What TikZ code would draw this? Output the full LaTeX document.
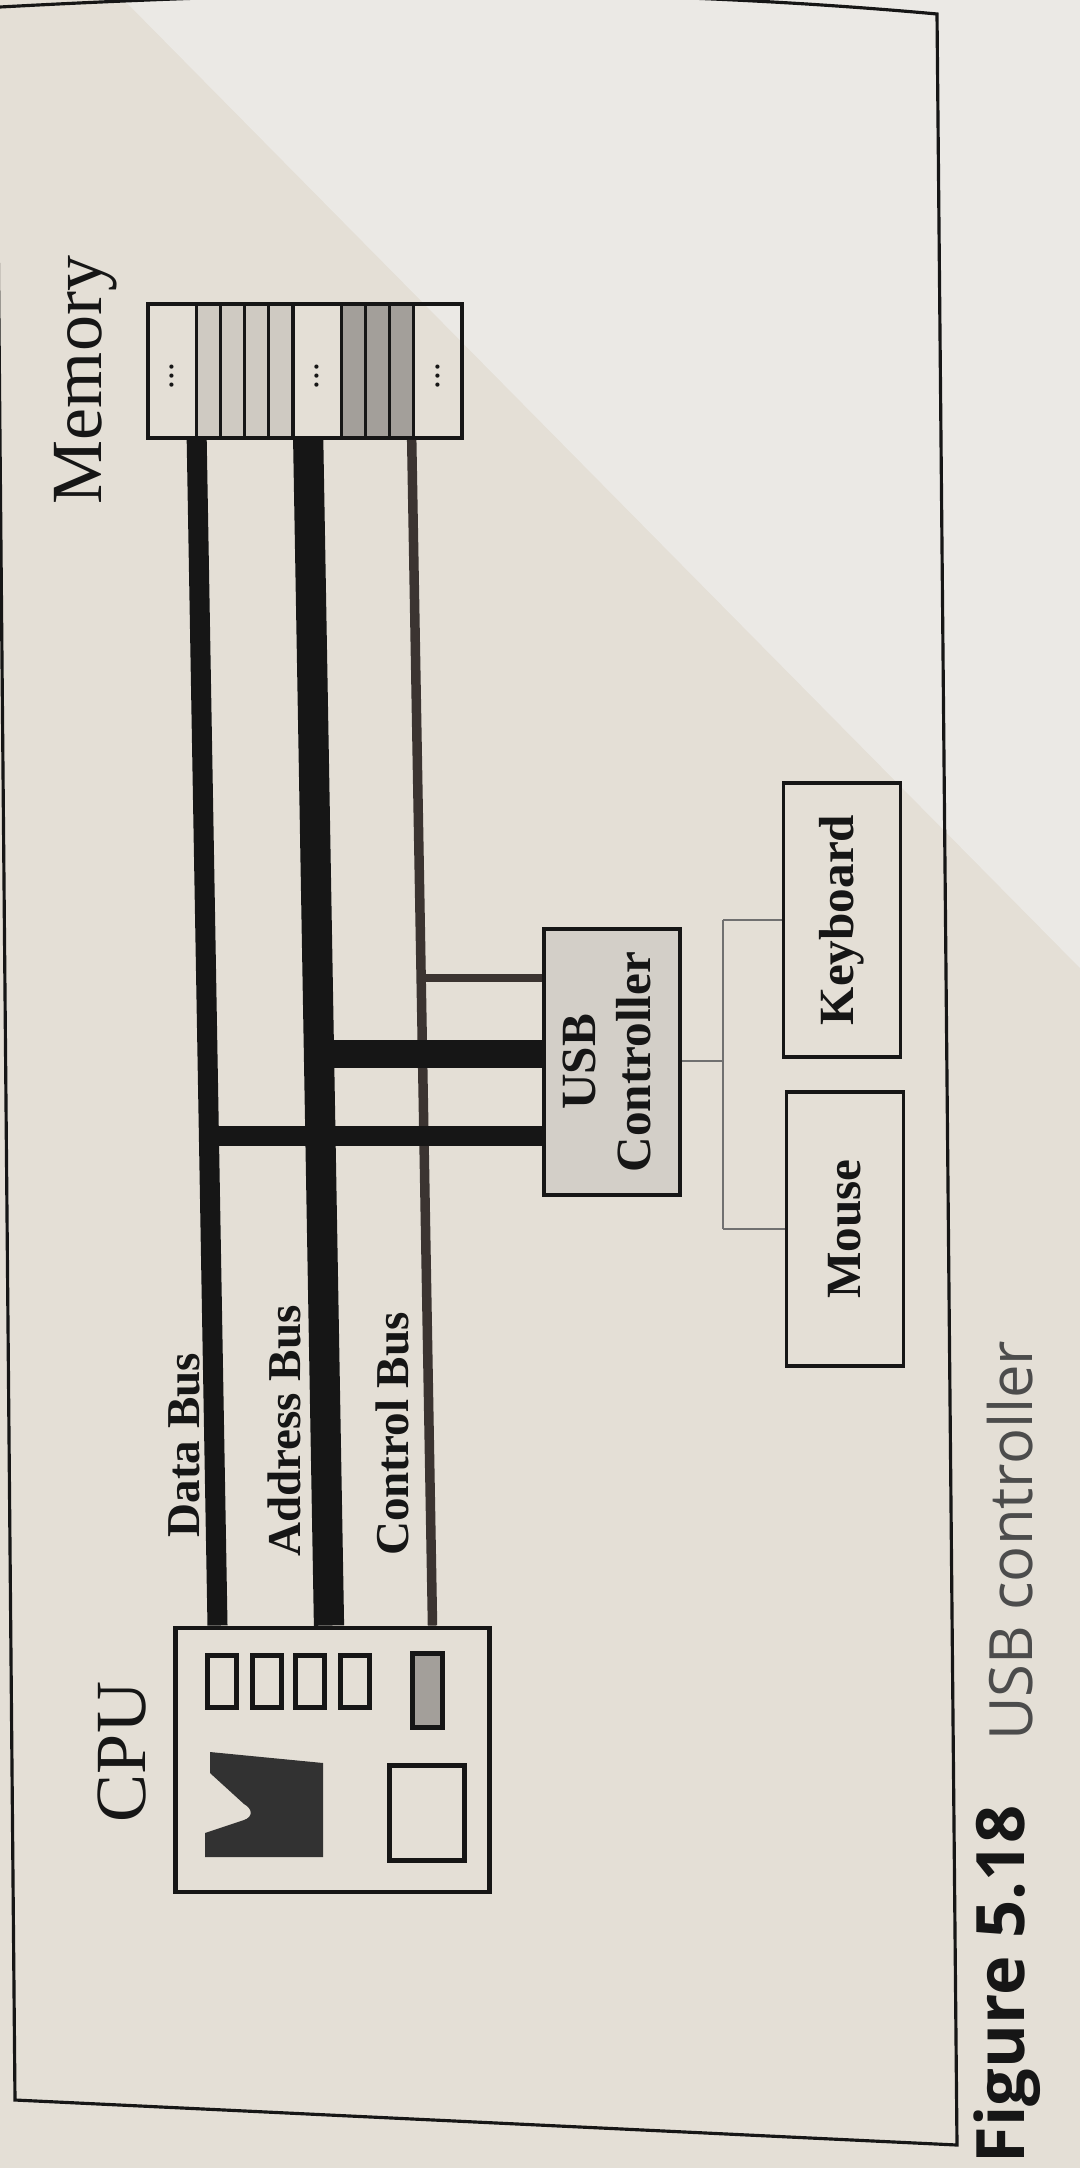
\documentclass[tikz,border=0pt]{standalone}
\usepackage{fontspec}
\setmainfont{Liberation Serif}
\newfontfamily\capfont{Open Sans}
\definecolor{paper}{HTML}{E4DFD6}
\definecolor{paperlt}{HTML}{EBE9E5}
\definecolor{ink}{HTML}{161616}
\definecolor{cellA}{HTML}{CFCAC2}
\definecolor{cellB}{HTML}{A39F9A}
\definecolor{usbfill}{HTML}{D3CFC8}
\definecolor{ctrlc}{HTML}{3B3431}
\definecolor{treec}{HTML}{707070}
\definecolor{capgray}{HTML}{4C4C4C}
\tikzset{
  frameline/.style={draw=ink, line width=0.9pt},
  boxline/.style={draw=ink, line width=1.1pt, inner sep=0pt},
  membox/.style={boxline, minimum width=3.14cm, minimum height=1.34cm},
  cpubox/.style={boxline, line width=1.4pt, minimum width=3.14cm, minimum height=2.64cm},
  usbbox/.style={boxline, fill=usbfill, minimum width=1.36cm, minimum height=2.66cm},
  devbox/.style={boxline, minimum width=1.17cm, minimum height=2.74cm},
  bigtxt/.style={text=ink, font=\fontsize{20.5}{24}\selectfont, inner sep=0pt, rotate=90},
  buslbl/.style={text=ink, font=\fontsize{13.4}{15}\selectfont\bfseries, inner sep=0pt, rotate=90},
  boxtxt/.style={text=ink, font=\fontsize{14}{15.5}\selectfont\bfseries},
  databus/.style={draw=ink, line width=5.7pt},
  addrbus/.style={draw=ink, line width=8.6pt},
  ctrlbus/.style={draw=ctrlc, line width=2.7pt},
  treeline/.style={draw=treec, line width=0.6pt},
  inner/.style={draw=ink, line width=1.4pt},
  dotlbl/.style={text=ink, font=\fontsize{10}{10}\selectfont, inner sep=0pt, rotate=90},
  capbold/.style={text=ink, font=\capfont\bfseries\fontsize{19}{22}\selectfont, inner sep=0pt, rotate=90},
  capreg/.style={text=capgray, font=\capfont\fontsize{17}{20}\selectfont, inner sep=0pt, rotate=90},
}
\begin{document}
\begin{tikzpicture}
\useasboundingbox (0,0) rectangle (10.8,-21.68);
\fill[paper] (0,0) rectangle (10.8,-21.68);
\fill[paperlt] (1.24,0) -- (10.8,0) -- (10.8,-9.68) -- cycle;
\draw[frameline] (0,-0.07) .. controls (3.5,0.12) and (6.5,0.12) .. (9.37,-0.14) -- (9.57,-21.45) -- (0.15,-21.00) -- (-0.04,0.05);
% memory
\fill[cellA] (1.963,-3.04) rectangle (2.930,-4.38);
\fill[cellB] (3.413,-3.04) rectangle (4.137,-4.38);
\node[membox] (mem) at (3.05,-3.71) {};
\foreach \x in {1.963,2.205,2.446,2.688,2.930,3.413,3.654,3.896,4.137}
  \draw[ink, line width=0.9pt] (\x,-3.04) -- (\x,-4.38);
\node[dotlbl] (d1) at (1.72,-3.76) {...};
\node[dotlbl] (d2) at (3.17,-3.76) {...};
\node[dotlbl] (d3) at (4.38,-3.76) {...};
\node[bigtxt] (memlbl) at (0.86,-3.80) {Memory};
% cpu
\node[cpubox] (cpu) at (3.325,-17.60) {};
\node[bigtxt] (cpulbl) at (1.22,-17.52) {CPU};
\foreach \c in {2.22,2.67,3.10,3.55}
  \draw[inner] (\c-0.145,-16.555) rectangle (\c+0.145,-17.075);
\filldraw[fill=cellB, inner] (4.125,-16.535) rectangle (4.425,-17.275);
\fill[ink!88] (2.10,-17.52) -- (3.23,-17.63) -- (3.23,-18.57) -- (2.05,-18.57) -- (2.05,-18.33) -- (2.44,-18.20) .. controls (2.53,-18.17) and (2.53,-18.09) .. (2.44,-18.04) -- (2.10,-17.73) -- cycle;
\draw[inner] (3.895,-17.655) rectangle (4.645,-18.605);
% buses
\coordinate (dT) at (1.967,-4.38);  \coordinate (dB) at (2.175,-16.28);
\coordinate (aT) at (3.082,-4.38);  \coordinate (aB) at (3.290,-16.28);
\coordinate (cT) at (4.117,-4.38);  \coordinate (cB) at (4.325,-16.28);
\draw[databus] (mem.south -| dT) -- (cpu.north -| dB);
\draw[addrbus] (mem.south -| aT) -- (cpu.north -| aB);
\draw[ctrlbus] (mem.south -| cT) -- (cpu.north -| cB);
\node[buslbl] (dlbl) at (1.84,-14.45) {Data Bus};
\node[buslbl] (albl) at (2.84,-14.31) {Address Bus};
\node[buslbl] (clbl) at (3.92,-14.34) {Control Bus};
% usb controller
\node[usbbox, boxtxt] (usb) at (6.12,-10.62) {\rotatebox{90}{\begin{tabular}{@{}c@{}}USB\\Controller\end{tabular}}};
\coordinate (cj) at (4.211,-9.78);
\coordinate (aj) at (3.190,-10.54);
\coordinate (dj) at (2.089,-11.36);
\draw[ctrlbus, line width=2.5pt] (cj) -- (cj -| usb.west);
\draw[addrbus, line width=8pt] (aj) -- (aj -| usb.west);
\draw[databus] (dj) -- (dj -| usb.west);
% devices
\node[devbox, boxtxt] (kb) at (8.42,-9.20) {\rotatebox{90}{Keyboard}};
\node[devbox, boxtxt] (mouse) at (8.45,-12.29) {\rotatebox{90}{Mouse}};
\coordinate (tj) at (7.23,-10.61);
\draw[treeline] (usb.east |- tj) -- (tj);
\draw[treeline] (tj |- kb.west) -- (tj |- mouse.west);
\draw[treeline] (tj |- kb.west) -- (kb.west);
\draw[treeline] (tj |- mouse.west) -- (mouse.west);
% caption
\node[capbold, anchor=base west] (fig) at (10.24,-21.64) {Figure 5.18};
\node[capreg, anchor=base east] (cap) at (10.32,-13.40) {USB controller};
\end{tikzpicture}
\end{document}
